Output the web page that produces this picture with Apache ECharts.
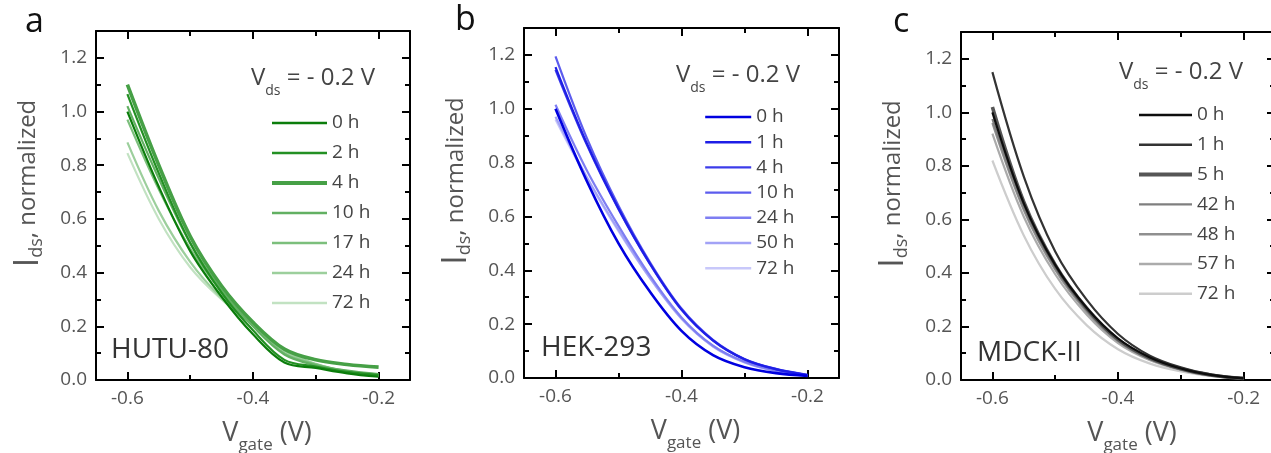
<!DOCTYPE html>
<html>
<head>
<meta charset="utf-8">
<script src="https://cdn.jsdelivr.net/npm/echarts@6/dist/echarts.min.js"></script>
<style>
    html, body { margin: 0; padding: 0; background: #fff; }
    #chart { width: 1271px; height: 453px; }
</style>
</head>
<body>
<div id="chart"></div>
<script>
// shared gate voltage samples (V)
const vGate = [-0.6, -0.55, -0.5, -0.45, -0.4, -0.35, -0.3, -0.25, -0.2];

const xMajorTicks = [-0.6, -0.4, -0.2];
const xMinorTicks = [-0.5, -0.3];
const yMajorTicks = [0, 0.2, 0.4, 0.6, 0.8, 1.0, 1.2];
const yMinorTicks = [0.1, 0.3, 0.5, 0.7, 0.9, 1.1];

/*********** a: HUTU-80 ***********/
const hutuHours = ['0 h', '2 h', '4 h', '10 h', '17 h', '24 h', '72 h'];
const hutuCurves = [
    [1.00, 0.72, 0.48, 0.31, 0.17, 0.065, 0.045, 0.025, 0.012],
    [1.065, 0.77, 0.51, 0.325, 0.185, 0.075, 0.05, 0.03, 0.018],
    [1.10, 0.80, 0.535, 0.35, 0.215, 0.115, 0.075, 0.058, 0.048],
    [1.02, 0.75, 0.51, 0.335, 0.20, 0.095, 0.055, 0.035, 0.022],
    [0.97, 0.71, 0.49, 0.33, 0.205, 0.10, 0.058, 0.033, 0.02],
    [0.885, 0.63, 0.44, 0.305, 0.205, 0.11, 0.06, 0.03, 0.016],
    [0.845, 0.60, 0.42, 0.30, 0.205, 0.11, 0.058, 0.028, 0.014]
];

/*********** b: HEK-293 ***********/
const hekHours = ['0 h', '1 h', '4 h', '10 h', '24 h', '50 h', '72 h'];
const hekCurves = [
    [1.00, 0.73, 0.50, 0.32, 0.175, 0.085, 0.04, 0.018, 0.008],
    [1.155, 0.87, 0.63, 0.425, 0.255, 0.14, 0.07, 0.033, 0.011],
    [1.145, 0.865, 0.627, 0.423, 0.253, 0.139, 0.069, 0.032, 0.011],
    [1.195, 0.89, 0.64, 0.43, 0.258, 0.142, 0.071, 0.034, 0.012],
    [1.015, 0.77, 0.565, 0.38, 0.225, 0.12, 0.06, 0.027, 0.01],
    [0.97, 0.745, 0.55, 0.372, 0.221, 0.118, 0.059, 0.026, 0.01],
    [0.96, 0.74, 0.545, 0.37, 0.22, 0.117, 0.058, 0.026, 0.01]
];

/*********** c: MDCK-II ***********/
const mdckHours = ['0 h', '1 h', '5 h', '42 h', '48 h', '57 h', '72 h'];
const mdckCurves = [
    [1.00, 0.66, 0.43, 0.27, 0.155, 0.085, 0.043, 0.018, 0.006],
    [1.15, 0.76, 0.48, 0.30, 0.172, 0.092, 0.047, 0.02, 0.007],
    [1.02, 0.665, 0.43, 0.268, 0.152, 0.083, 0.042, 0.018, 0.006],
    [0.975, 0.645, 0.42, 0.262, 0.148, 0.08, 0.041, 0.017, 0.006],
    [0.96, 0.635, 0.412, 0.256, 0.145, 0.078, 0.04, 0.017, 0.006],
    [0.92, 0.61, 0.395, 0.245, 0.138, 0.075, 0.038, 0.016, 0.006],
    [0.82, 0.54, 0.34, 0.205, 0.115, 0.062, 0.032, 0.014, 0.005]
];

const FONT = "'Open Sans', 'DejaVu Sans', sans-serif";
const TXT = '#555';

const panels = [
    {
        letter: 'a', cell: 'HUTU-80', hours: hutuHours, curves: hutuCurves,
        colors: ['#0b7d0b', '#239023', '#46a046', '#62b062', '#7cbf7c', '#9ccf9c', '#c2e2c2'],
        widths: [2.2, 2.2, 3.6, 2.2, 2.2, 2.2, 2.2],
        grid: { left: 96, right: 861, top: 31, bottom: 73 },
        letterPos: [25, 2], cellPos: [111, 334], vdsPos: [251, 62],
        legend: { left: 270, top: 113, itemWidth: 55, itemGap: 10 }
    },
    {
        letter: 'b', cell: 'HEK-293', hours: hekHours, curves: hekCurves,
        colors: ['#0000e0', '#1e1ee6', '#3c3cea', '#5c5cee', '#7e7ef2', '#a2a2f6', '#c8c8fa'],
        widths: [2.6, 2.2, 2.2, 2.2, 2.2, 2.2, 2.2],
        grid: { left: 524, right: 432, top: 28, bottom: 75 },
        letterPos: [455, 0], cellPos: [541, 332], vdsPos: [676, 59],
        legend: { left: 704, top: 107, itemWidth: 46, itemGap: 5.2 }
    },
    {
        letter: 'c', cell: 'MDCK-II', hours: mdckHours, curves: mdckCurves,
        colors: ['#0d0d0d', '#333333', '#565656', '#7f7f7f', '#8f8f8f', '#ababab', '#cdcdcd'],
        widths: [2.2, 2.2, 3.6, 2.2, 2.2, 2.2, 2.2],
        grid: { left: 961, right: -4, top: 32, bottom: 73 },
        letterPos: [893, 2], cellPos: [977, 337], vdsPos: [1119, 56],
        legend: { left: 1137, top: 105, itemWidth: 53, itemGap: 9.8 }
    }
];

const option = {
    animation: false,
    textStyle: { fontFamily: FONT },
    title: [], grid: [], xAxis: [], yAxis: [], legend: [], series: []
};

panels.forEach(function (p, i) {
    option.grid.push(Object.assign({ containLabel: false, outerBoundsMode: 'none' }, p.grid));

    const line = { show: true, onZero: false, lineStyle: { color: '#000', width: 2 } };
    const xBase = { gridIndex: i, type: 'value', min: -0.65, max: -0.15, splitLine: { show: false } };
    const yBase = { gridIndex: i, type: 'value', min: 0, max: 1.3, splitLine: { show: false } };
    const tick = function (vals, len) {
        return { show: true, inside: true, length: len, customValues: vals, lineStyle: { color: '#000', width: 2 } };
    };
    const noLine = { show: false, onZero: false };

    // bottom + top x axes (major / minor ticks)
    option.xAxis.push(Object.assign({}, xBase, {
        position: 'bottom', axisLine: line, axisTick: tick(xMajorTicks, 8),
        axisLabel: { customValues: xMajorTicks, fontSize: 19, color: TXT, margin: 9,
            formatter: function (v) { return v.toFixed(1); } },
        name: '{v|V}{s|gate}{v| (V)}', nameLocation: 'middle', nameGap: 30,
        nameTextStyle: {
            padding: [0, 0, 0, 28],
            rich: {
                v: { fontSize: 27, color: TXT, fontFamily: FONT, lineHeight: 32 },
                s: { fontSize: 17, color: TXT, fontFamily: FONT, lineHeight: 18, padding: [24, 0, 0, 0] }
            }
        }
    }));
    option.xAxis.push(Object.assign({}, xBase, {
        position: 'bottom', axisLine: noLine, axisTick: tick(xMinorTicks, 5), axisLabel: { show: false }
    }));
    option.xAxis.push(Object.assign({}, xBase, {
        position: 'top', axisLine: line, axisTick: tick(xMajorTicks, 8), axisLabel: { show: false }
    }));
    option.xAxis.push(Object.assign({}, xBase, {
        position: 'top', axisLine: noLine, axisTick: tick(xMinorTicks, 5), axisLabel: { show: false }
    }));

    // left + right y axes
    option.yAxis.push(Object.assign({}, yBase, {
        position: 'left', axisLine: line, axisTick: tick(yMajorTicks, 8),
        axisLabel: { customValues: yMajorTicks, fontSize: 19, color: TXT, margin: 9,
            formatter: function (v) { return v.toFixed(1); } },
        name: '{i|I}{s|ds}{n|, normalized}', nameLocation: 'middle', nameGap: 50,
        nameTextStyle: {
            padding: [0, 0, 0, 44],
            rich: {
                i: { fontSize: 34, color: TXT, fontFamily: FONT, lineHeight: 36 },
                s: { fontSize: 18, color: TXT, fontFamily: FONT, lineHeight: 18, padding: [18, 0, 0, 0] },
                n: { fontSize: 24, color: TXT, fontFamily: FONT, lineHeight: 36 }
            }
        }
    }));
    option.yAxis.push(Object.assign({}, yBase, {
        position: 'left', axisLine: noLine, axisTick: tick(yMinorTicks, 5), axisLabel: { show: false }
    }));
    option.yAxis.push(Object.assign({}, yBase, {
        position: 'right', axisLine: line, axisTick: tick(yMajorTicks, 8), axisLabel: { show: false }
    }));
    option.yAxis.push(Object.assign({}, yBase, {
        position: 'right', axisLine: noLine, axisTick: tick(yMinorTicks, 5), axisLabel: { show: false }
    }));

    // curves
    const names = p.hours.map(function (h) { return p.letter + ':' + h; });
    p.curves.forEach(function (vals, k) {
        option.series.push({
            name: names[k],
            type: 'line',
            xAxisIndex: i * 4,
            yAxisIndex: i * 4,
            smooth: 0.35,
            symbol: 'none',
            z: 10 - k,
            lineStyle: { color: p.colors[k], width: p.widths[k] },
            itemStyle: { color: p.colors[k] },
            data: vGate.map(function (x, j) { return [x, vals[j]]; })
        });
    });

    option.legend.push({
        data: names.map(function (n, k) {
            return { name: n, lineStyle: { width: p.widths[k] > 3 ? 4 : 2.4 } };
        }),
        orient: 'vertical',
        left: p.legend.left,
        top: p.legend.top,
        padding: 0,
        itemWidth: p.legend.itemWidth,
        itemHeight: 14,
        itemGap: p.legend.itemGap,
        selectedMode: false,
        itemStyle: { opacity: 0 },
        textStyle: { fontSize: 19, color: '#444', fontFamily: FONT, lineHeight: 20 },
        formatter: function (name) { return name.split(':')[1]; }
    });

    // panel letter, cell line, Vds label
    option.title.push({
        text: p.letter, left: p.letterPos[0], top: p.letterPos[1], padding: 0,
        textStyle: { fontSize: 34, fontWeight: 'normal', color: '#111', fontFamily: FONT, lineHeight: 40 }
    });
    option.title.push({
        text: p.cell, left: p.cellPos[0], top: p.cellPos[1], padding: 0,
        textStyle: { fontSize: 28, fontWeight: 'normal', color: '#333', fontFamily: FONT, lineHeight: 32 }
    });
    option.title.push({
        text: '{v|V}{s|ds}{v| = - 0.2 V}', left: p.vdsPos[0], top: p.vdsPos[1], padding: 0,
        textStyle: {
            fontWeight: 'normal',
            rich: {
                v: { fontSize: 24, fontWeight: 'normal', color: '#444', fontFamily: FONT, lineHeight: 32 },
                s: { fontSize: 14, fontWeight: 'normal', color: '#444', fontFamily: FONT, lineHeight: 14, padding: [26, 0, 0, 0] }
            }
        }
    });
});

const chart = echarts.init(document.getElementById('chart'));
chart.setOption(option);
</script>
</body>
</html>
